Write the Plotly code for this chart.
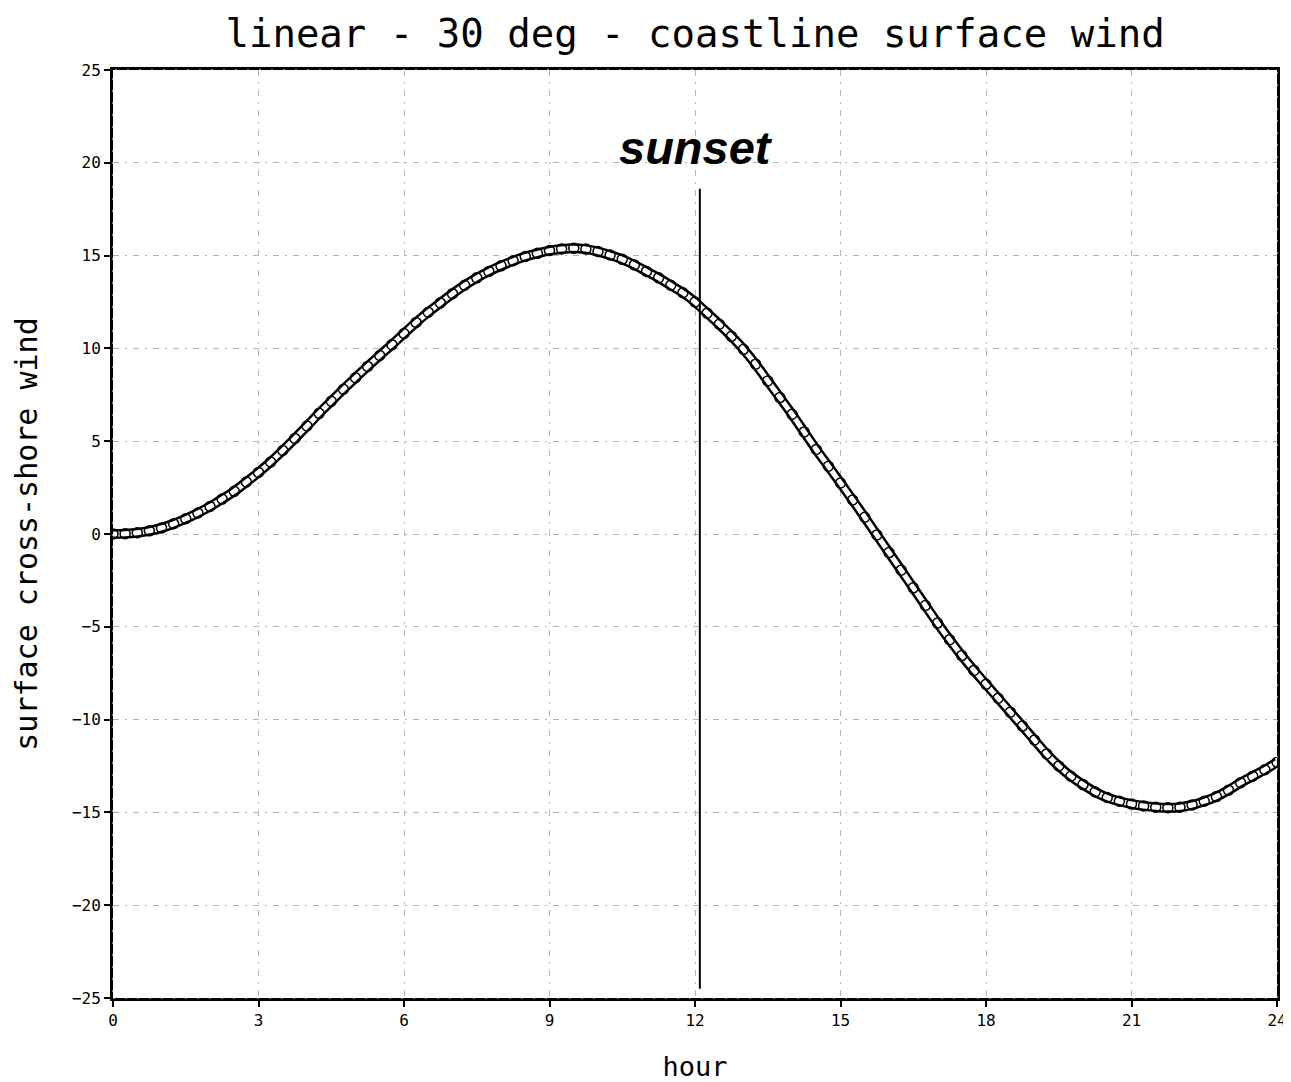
import plotly.graph_objects as go

# ---- data ----
hours = [i * 0.25 for i in range(97)]
wind = [
    0.00, 0.02, 0.07, 0.17, 0.33, 0.55, 0.82, 1.13, 1.48, 1.88, 2.30, 2.80,
    3.32, 3.88, 4.50, 5.15, 5.82, 6.50, 7.15, 7.80, 8.42, 9.03, 9.62, 10.20,
    10.80, 11.40, 11.95, 12.45, 12.95, 13.40, 13.80, 14.15, 14.45, 14.72, 14.95, 15.12,
    15.27, 15.36, 15.40, 15.35, 15.22, 15.03, 14.80, 14.50, 14.15, 13.80, 13.40, 13.00,
    12.50, 11.90, 11.30, 10.65, 9.95, 9.15, 8.25, 7.35, 6.45, 5.50, 4.55, 3.65,
    2.75, 1.83, 0.90, -0.05, -1.00, -1.95, -2.90, -3.85, -4.80, -5.70, -6.55, -7.35,
    -8.10, -8.85, -9.60, -10.35, -11.10, -11.85, -12.50, -13.05, -13.50, -13.90, -14.20, -14.40,
    -14.55, -14.65, -14.72, -14.75, -14.72, -14.60, -14.40, -14.15, -13.80, -13.40, -13.05, -12.70,
    -12.30,
]
x_ticks = [0, 3, 6, 9, 12, 15, 18, 21, 24]
y_ticks = [25, 20, 15, 10, 5, 0, -5, -10, -15, -20, -25]
sunset_hour = 12.1
sunset_top = 18.6
sunset_bottom = -24.5
sunset_label_y = 20.8

GRADS_FONT = "DejaVu Sans Mono"

fig = go.Figure()
fig.add_trace(go.Scatter(x=hours, y=wind, mode="lines", line=dict(color="black", width=10, shape="spline"),
                         hoverinfo="skip", showlegend=False))
fig.add_trace(go.Scatter(x=hours, y=wind, mode="lines", line=dict(color="white", width=5, shape="spline"),
                         hoverinfo="skip", showlegend=False))
fig.add_trace(go.Scatter(x=hours, y=wind, mode="markers",
                         marker=dict(symbol="circle-open", size=10, color="black", line=dict(width=1.5, color="black")),
                         showlegend=False))

fig.add_shape(type="line", x0=sunset_hour, x1=sunset_hour, y0=sunset_bottom, y1=sunset_top,
              xref="x", yref="y", line=dict(color="black", width=2))
fig.add_annotation(x=sunset_hour, y=sunset_label_y, xref="x", yref="y", text="<b><i>sunset</i></b>",
                   showarrow=False, xshift=-4, font=dict(family="Liberation Sans", size=47, color="black"))

# dotted white accent on the black frame, as in the reference
fig.add_shape(type="rect", x0=0, x1=1, y0=0, y1=1, xref="paper", yref="paper",
              line=dict(color="white", width=1, dash="2px,10px"), layer="above")

grid_dash = "6px,6px,2px,6px"
common = dict(showgrid=True, gridcolor="#b4b4b4", griddash=grid_dash, gridwidth=1,
              showline=True, linecolor="black", linewidth=3, mirror=True,
              ticks="outside", ticklen=6, tickwidth=1.5, tickcolor="black",
              tickfont=dict(family=GRADS_FONT, size=16, color="black"),
              zeroline=False, automargin=False)
fig.update_xaxes(range=[0, 24], tickvals=x_ticks, ticktext=[str(t) for t in x_ticks],
                 title=dict(text="hour", font=dict(family=GRADS_FONT, size=27, color="black"), standoff=34),
                 **common)
fig.update_yaxes(range=[-25, 25], tickvals=y_ticks,
                 title=dict(text="surface cross-shore wind", font=dict(family=GRADS_FONT, size=30, color="black"),
                            standoff=26),
                 **common)

# page body adds an 8px offset; figure is sized so the plot lands where the reference has it
fig.update_layout(
    width=1283, height=1074,
    margin=dict(l=105, r=14, t=62, b=84),
    paper_bgcolor="white", plot_bgcolor="white",
    title=dict(text="linear - 30 deg - coastline surface wind", x=0.5355, xanchor="center",
               y=0.9767, yanchor="middle",
               font=dict(family=GRADS_FONT, size=39, color="black")),
)

fig.write_html("out.html")
